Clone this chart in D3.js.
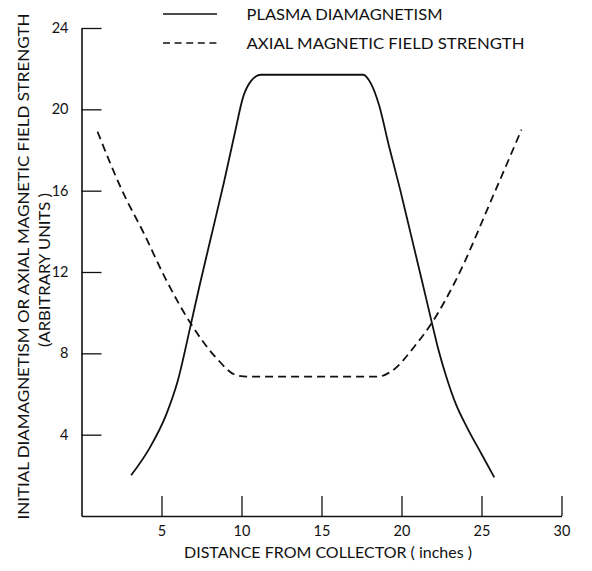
<!DOCTYPE html>
<html>
<head>
<meta charset="utf-8">
<script src="https://cdn.jsdelivr.net/npm/d3@7"></script>
<style>
  html, body { margin: 0; padding: 0; background: #fff; }
  svg { display: block; }
  text { font-family: Lato, "DejaVu Sans", sans-serif; fill: #111; }
</style>
</head>
<body>
<svg id="chart" width="592" height="571"></svg>
<script>
// ---- data ----
const xTicks = [5, 10, 15, 20, 25, 30];
const yTicks = [4, 8, 12, 16, 20, 24];

const plasmaX = [3.1, 4.3, 5.3, 6.0, 6.8, 7.4, 8.0, 8.9, 9.6, 10.1, 10.6, 11.2, 14.0, 17.6, 18.1, 18.6, 19.2, 19.9, 20.6, 21.3, 21.9, 22.3, 22.8, 23.4, 24.1, 25.0, 25.8];
const plasmaY = [2.0, 3.4, 5.0, 6.6, 9.3, 11.4, 13.4, 16.4, 18.9, 20.6, 21.4, 21.7, 21.7, 21.7, 21.25, 20.2, 18.25, 16.1, 13.8, 11.5, 9.5, 8.2, 6.85, 5.5, 4.35, 3.05, 1.9];

const axialX = [1.0, 2.6, 3.9, 5.2, 6.8, 8.45, 9.7, 10.5, 18.5, 19.3, 20.95, 21.9, 23.4, 25.7, 27.5];
const axialY = [18.9, 15.9, 13.9, 11.75, 9.5, 7.75, 6.92, 6.85, 6.85, 7.08, 8.48, 9.5, 11.6, 15.7, 19.0];

const seriesNames = ["PLASMA DIAMAGNETISM", "AXIAL MAGNETIC FIELD STRENGTH"];
const xTitle = "DISTANCE FROM COLLECTOR ( inches )";
const yTitle1 = "INITIAL DIAMAGNETISM OR AXIAL MAGNETIC FIELD STRENGTH";
const yTitle2 = "(ARBITRARY UNITS )";

// ---- drawing ----
const svg = d3.select("#chart");
const x = d3.scaleLinear().domain([0, 30]).range([81.5, 561.5]);
const y = d3.scaleLinear().domain([0, 24]).range([516, 28]);

const ink = "#111";

// axes
const gx = svg.append("g").attr("transform", `translate(0,${y(0)})`)
  .call(d3.axisBottom(x).tickValues(xTicks).tickSize(-20).tickSizeOuter(0).tickPadding(10).tickFormat(d3.format("d")));
const gy = svg.append("g").attr("transform", `translate(${x(0)},0)`)
  .call(d3.axisLeft(y).tickValues(yTicks).tickSize(-20).tickSizeOuter(0).tickPadding(13).tickFormat(d3.format("d")));

[gx, gy].forEach(g => {
  g.select(".domain").attr("stroke", ink).attr("stroke-width", 1.6);
  g.selectAll(".tick line").attr("stroke", ink).attr("stroke-width", 1.3);
  g.selectAll(".tick text").attr("font-size", 14.5).attr("font-family", "Lato, 'DejaVu Sans', sans-serif").attr("fill", ink);
});

// curves
const line = d3.line().x(d => x(d[0])).y(d => y(d[1])).curve(d3.curveMonotoneX);
const plasma = plasmaX.map((v, i) => [v, plasmaY[i]]);
const axial = axialX.map((v, i) => [v, axialY[i]]);

svg.append("path").datum(plasma).attr("d", line)
  .attr("fill", "none").attr("stroke", ink).attr("stroke-width", 1.8);
svg.append("path").datum(axial).attr("d", line)
  .attr("fill", "none").attr("stroke", ink).attr("stroke-width", 1.8)
  .attr("stroke-dasharray", "8,5");

// legend
const leg = svg.append("g");
leg.append("line").attr("x1", 163).attr("x2", 217).attr("y1", 14).attr("y2", 14)
  .attr("stroke", ink).attr("stroke-width", 1.6);
leg.append("line").attr("x1", 163).attr("x2", 217).attr("y1", 43).attr("y2", 43)
  .attr("stroke", ink).attr("stroke-width", 1.6).attr("stroke-dasharray", "7,4.6");
leg.append("text").attr("x", 246.5).attr("y", 19.5).attr("font-size", 15)
  .attr("textLength", 196).attr("lengthAdjust", "spacingAndGlyphs").text(seriesNames[0]);
leg.append("text").attr("x", 246.5).attr("y", 48.5).attr("font-size", 15)
  .attr("textLength", 278).attr("lengthAdjust", "spacingAndGlyphs").text(seriesNames[1]);

// axis titles
svg.append("text").attr("x", 328).attr("y", 558).attr("font-size", 15)
  .attr("text-anchor", "middle").attr("textLength", 288).attr("lengthAdjust", "spacingAndGlyphs").text(xTitle);

svg.append("text").attr("transform", "translate(28.5,266.5) rotate(-90)").attr("font-size", 15)
  .attr("text-anchor", "middle").attr("textLength", 506).attr("lengthAdjust", "spacingAndGlyphs").text(yTitle1);
svg.append("text").attr("transform", "translate(49.5,270) rotate(-90)").attr("font-size", 15)
  .attr("text-anchor", "middle").attr("textLength", 154).attr("lengthAdjust", "spacingAndGlyphs").text(yTitle2);
</script>
</body>
</html>
